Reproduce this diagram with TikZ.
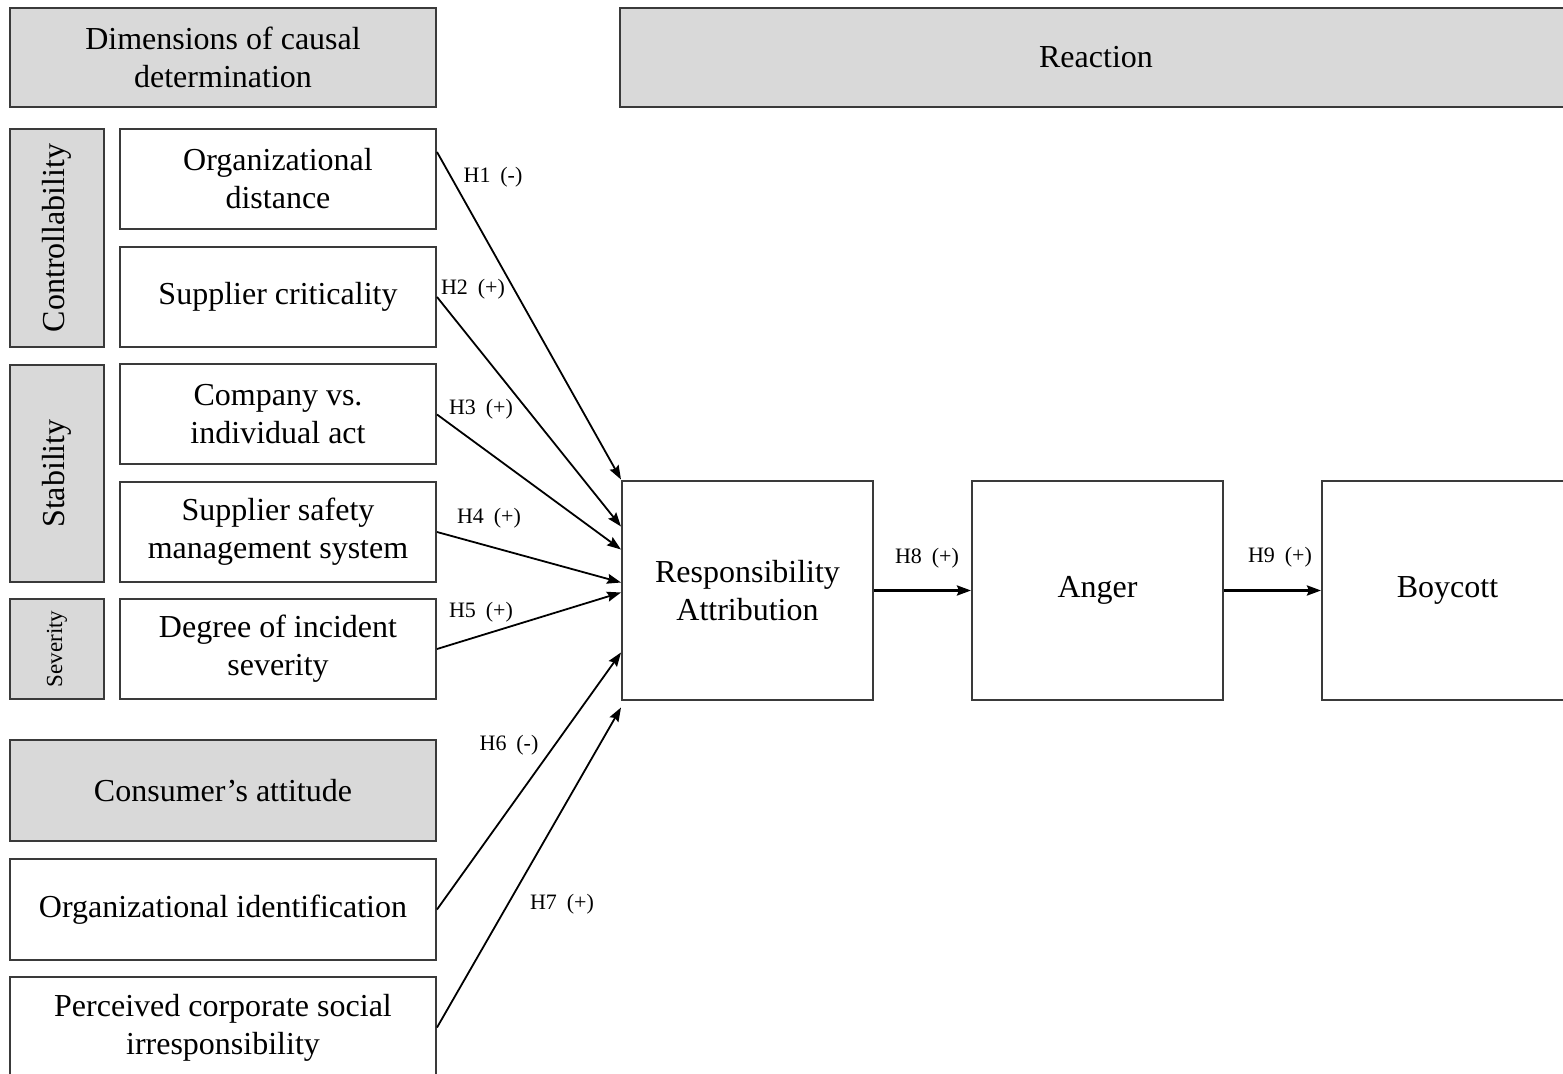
\documentclass[tikz,border=0pt]{standalone}
\usepackage{fontspec}
\setmainfont{Liberation Serif}
\usetikzlibrary{arrows.meta,positioning,calc}
\definecolor{rgray}{HTML}{D9D9D9}
\definecolor{rline}{HTML}{3A3A3A}
\tikzset{
  cbox/.style={draw=rline,fill=white,line width=1pt,align=center,inner sep=0pt,font=\fontsize{16}{19}\selectfont},
  hbox/.style={cbox,fill=rgray},
  wbox/.style={cbox,minimum width=158pt,minimum height=50pt},
  lbox/.style={cbox,minimum width=213pt,minimum height=50.5pt},
  dimbox/.style={hbox,rotate=90,minimum height=47pt},
  rbox/.style={cbox,minimum width=125.5pt,minimum height=109.5pt},
  hyp/.style={font=\fontsize{11}{13}\selectfont,inner sep=0pt},
  arr/.style={-{Stealth[length=7pt,width=5pt,inset=1pt]},line width=0.9pt},
  warr/.style={arr,line width=1.4pt},
}
\begin{document}
\begin{tikzpicture}[x=0.5pt,y=-0.5pt]
  \useasboundingbox (0,0) rectangle (1563,1074);
  % headers
  \node[hbox,minimum width=213pt,minimum height=49.5pt] (dim) at (223,57.5) {Dimensions of causal\\ determination};
  \node[hbox,minimum width=476pt,minimum height=49.5pt] (rea) at (1096,57.5) {Reaction};
  % causal dimensions
  \node[wbox] (od) at (278,179) {Organizational\\ distance};
  \node[wbox,below=8pt of od] (sc) {Supplier criticality};
  \node[wbox,below=7.75pt of sc] (cv) {Company vs.\\ individual act};
  \node[wbox,below=7.75pt of cv] (ss) {Supplier safety\\ management system};
  \node[wbox,below=7.5pt of ss] (dg) {Degree of incident\\ severity};
  \node[dimbox,minimum width=109pt] (ctl) at (57,238) {Controllability};
  \node[dimbox,minimum width=108.5pt] (stb) at (57,473.5) {Stability};
  \node[dimbox,minimum width=50pt,font=\fontsize{11.5}{13}\selectfont] (sev) at (57,649) {Severity};
  % consumer attitude
  \node[lbox,fill=rgray] (ca) at (223,790.5) {Consumer’s attitude};
  \node[lbox,below=8pt of ca] (oi) {Organizational identification};
  \node[lbox,below=7.5pt of oi] (pc) {Perceived corporate social\\ irresponsibility};
  % reaction chain
  \node[rbox] (ra) at (747.5,590.5) {Responsibility\\ Attribution};
  \node[rbox,right=48.5pt of ra] (ang) {Anger};
  \node[rbox,right=48.5pt of ang] (boy) {Boycott};
  % hypotheses
  \draw[arr] ($(od.east)+(0,-27)$) -- ($(ra.west)+(0,-111)$);
  \draw[arr] (sc.east) -- ($(ra.west)+(0,-64)$);
  \draw[arr] (cv.east) -- ($(ra.west)+(0,-41)$);
  \draw[arr] (ss.east) -- ($(ra.west)+(0,-8)$);
  \draw[arr] (dg.east) -- ($(ra.west)+(0,2)$);
  \draw[arr] (oi.east) -- ($(ra.west)+(0,62)$);
  \draw[arr] (pc.east) -- ($(ra.west)+(0,117)$);
  \draw[warr] (ra) -- (ang);
  \draw[warr] (ang) -- (boy);
  \node[hyp] (h1) at (493,177) {H1\hspace{0.45em}(-)};
  \node[hyp] (h2) at (473,289) {H2\hspace{0.45em}(+)};
  \node[hyp] (h3) at (481,409) {H3\hspace{0.45em}(+)};
  \node[hyp] (h4) at (489,518) {H4\hspace{0.45em}(+)};
  \node[hyp] (h5) at (481,612) {H5\hspace{0.45em}(+)};
  \node[hyp] (h6) at (509,745) {H6\hspace{0.45em}(-)};
  \node[hyp] (h7) at (562,904) {H7\hspace{0.45em}(+)};
  \node[hyp] (h8) at (927,558) {H8\hspace{0.45em}(+)};
  \node[hyp] (h9) at (1280,557) {H9\hspace{0.45em}(+)};
\end{tikzpicture}
\end{document}
